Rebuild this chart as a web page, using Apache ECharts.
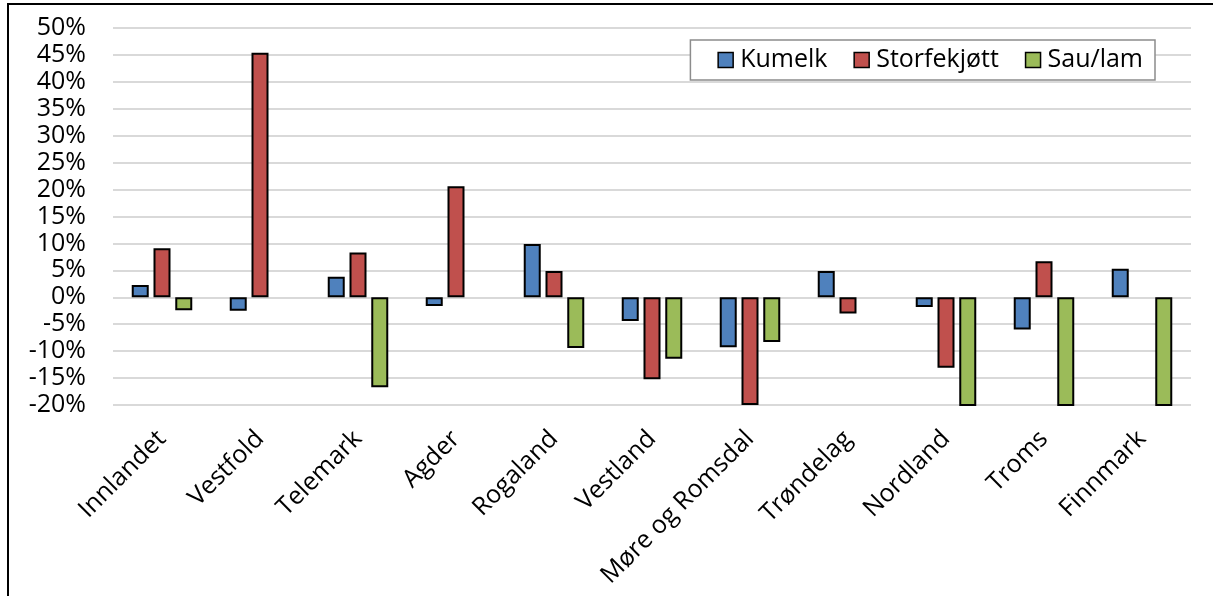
<!DOCTYPE html>
<html>
<head>
<meta charset="utf-8">
<script src="https://cdn.jsdelivr.net/npm/echarts@6/dist/echarts.min.js"></script>
<style>
html,body{margin:0;padding:0;background:#fff;width:1213px;height:596px;overflow:hidden;}
#frame{position:absolute;left:7px;top:3px;width:1230px;height:640px;border:2px solid #000;box-sizing:border-box;}
#chart{position:absolute;left:0;top:0;width:1213px;height:596px;}
</style>
</head>
<body>
<div id="frame"></div>
<div id="chart"></div>
<script>
const categories = ['Innlandet','Vestfold','Telemark','Agder','Rogaland','Vestland','Møre og Romsdal','Trøndelag','Nordland','Troms','Finnmark'];
const seriesNames = ['Kumelk','Storfekjøtt','Sau/lam'];
const kumelk = [2.3, -2.5, 3.8, -1.6, 9.9, -4.4, -9.3, 4.9, -1.8, -6.0, 5.3];
const storfekjott = [9.1, 45.4, 8.3, 20.6, 4.9, -15.2, -20.0, -3.0, -13.1, 6.7, null];
const saulam = [-2.4, null, -16.7, null, -9.4, -11.4, -8.3, null, -25, -25, -25];
const colors = ['#4f81bd','#c0504d','#9bbb59'];
const yMin = -20, yMax = 50, yStep = 5;

const FONT = 'Open Sans';
const chart = echarts.init(document.getElementById('chart'), null, {renderer:'canvas'});
const data = [kumelk, storfekjott, saulam];
chart.setOption({
  animation:false,
  backgroundColor:'transparent',
  grid:{left:113, right:22, top:28, bottom:191, containLabel:false},
  legend:{
    right:58, top:40,
    data:seriesNames,
    icon:'rect',
    itemWidth:15, itemHeight:15, itemGap:26,
    padding:[7,12,7,27],
    borderColor:'#8c8c8c', borderWidth:1.5, backgroundColor:'#fff',
    textStyle:{fontFamily:FONT, fontSize:25, lineHeight:26, color:'#000', padding:[0,0,0,2]},
    itemStyle:{borderColor:'#000', borderWidth:1.5}
  },
  xAxis:{
    type:'category', data:categories,
    axisLine:{show:false, onZero:false},
    axisTick:{show:false},
    axisLabel:{rotate:45, interval:0, margin:30, fontFamily:FONT, fontSize:25, color:'#000'}
  },
  yAxis:{
    type:'value', min:yMin, max:yMax, interval:yStep,
    axisLine:{show:false}, axisTick:{show:false},
    axisLabel:{formatter:'{value}%', margin:27, fontFamily:FONT, fontSize:25, color:'#000'},
    splitLine:{lineStyle:{color:'#d9d9d9', width:2}}
  },
  series: seriesNames.map((n,i)=>({
    name:n, type:'bar', data:data[i], clip:true,
    barWidth:17, barGap:'28%',
    itemStyle:{color:colors[i], borderColor:'#000', borderWidth:2}
  }))
});
</script>
</body>
</html>
